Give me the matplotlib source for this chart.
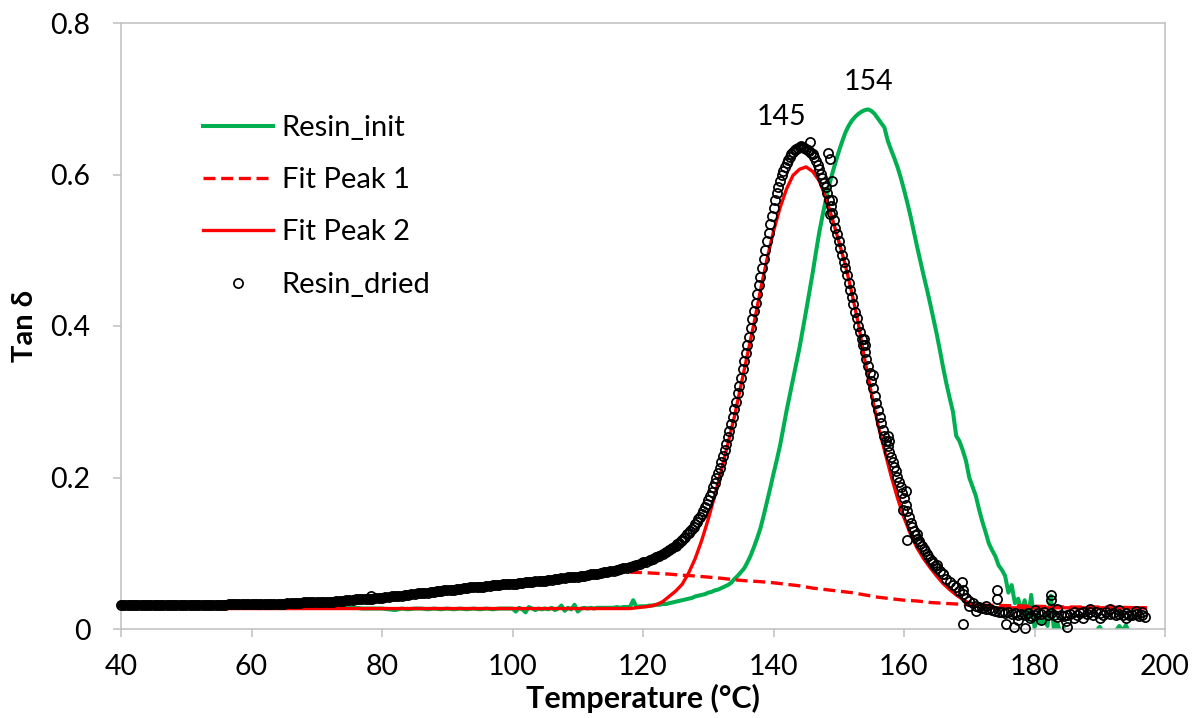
import numpy as np
import matplotlib
matplotlib.use("Agg")
import matplotlib.pyplot as plt

plt.rcParams['font.family'] = ['Lato', 'DejaVu Sans']

# ---------------- data ----------------
# Resin_dried (open circles), three sampling segments
dried_T1 = np.arange(40.0, 125.01, 0.5)
dried_v1 = [
    0.032, 0.032, 0.032, 0.032, 0.032, 0.032, 0.032, 0.032, 0.032, 0.032,
    0.032, 0.032, 0.032, 0.032, 0.032, 0.032, 0.032, 0.032, 0.032, 0.032,
    0.032, 0.032, 0.032, 0.032, 0.032, 0.032, 0.032, 0.032, 0.032, 0.032,
    0.032, 0.032, 0.032, 0.033, 0.033, 0.033, 0.033, 0.033, 0.033, 0.033,
    0.033, 0.033, 0.033, 0.033, 0.033, 0.033, 0.033, 0.033, 0.033, 0.033,
    0.033, 0.034, 0.034, 0.034, 0.034, 0.034, 0.035, 0.035, 0.035, 0.035,
    0.035, 0.035, 0.036, 0.036, 0.036, 0.036, 0.037, 0.037, 0.037, 0.038,
    0.038, 0.038, 0.039, 0.039, 0.039, 0.040, 0.040, 0.040, 0.041, 0.041,
    0.041, 0.042, 0.042, 0.043, 0.043, 0.044, 0.044, 0.045, 0.045, 0.046,
    0.046, 0.047, 0.047, 0.048, 0.048, 0.049, 0.049, 0.050, 0.050, 0.051,
    0.051, 0.052, 0.052, 0.053, 0.053, 0.054, 0.054, 0.055, 0.055, 0.056,
    0.056, 0.056, 0.057, 0.057, 0.058, 0.058, 0.058, 0.059, 0.059, 0.060,
    0.060, 0.060, 0.061, 0.061, 0.062, 0.062, 0.062, 0.063, 0.063, 0.064,
    0.064, 0.065, 0.065, 0.066, 0.066, 0.067, 0.067, 0.068, 0.068, 0.069,
    0.069, 0.070, 0.070, 0.071, 0.072, 0.072, 0.073, 0.074, 0.075, 0.075,
    0.076, 0.077, 0.078, 0.079, 0.080, 0.081, 0.082, 0.083, 0.085, 0.086,
    0.088, 0.089, 0.091, 0.093, 0.095, 0.097, 0.099, 0.101, 0.104, 0.107,
    0.110,
]
dried_T2 = np.arange(125.25, 165.001, 0.25)
dried_v2 = [
    0.112, 0.114, 0.116, 0.118, 0.120, 0.122, 0.125, 0.127,
    0.130, 0.132, 0.135, 0.138, 0.141, 0.145, 0.148, 0.152,
    0.156, 0.161, 0.165, 0.170, 0.175, 0.181, 0.187, 0.193,
    0.199, 0.206, 0.213, 0.220, 0.228, 0.236, 0.244, 0.253,
    0.262, 0.271, 0.280, 0.290, 0.300, 0.311, 0.321, 0.332,
    0.343, 0.354, 0.364, 0.375, 0.386, 0.397, 0.409, 0.420,
    0.431, 0.442, 0.454, 0.465, 0.477, 0.489, 0.500, 0.512,
    0.523, 0.534, 0.545, 0.556, 0.566, 0.575, 0.584, 0.592,
    0.599, 0.605, 0.610, 0.615, 0.619, 0.623, 0.627, 0.630,
    0.632, 0.634, 0.635, 0.636, 0.637, 0.636, 0.635, 0.634,
    0.633, 0.631, 0.629, 0.627, 0.623, 0.618, 0.613, 0.607,
    0.601, 0.595, 0.589, 0.583, 0.575, 0.566, 0.558, 0.549,
    0.540, 0.530, 0.521, 0.512, 0.503, 0.494, 0.485, 0.476,
    0.467, 0.457, 0.448, 0.438, 0.429, 0.419, 0.410, 0.400,
    0.392, 0.383, 0.375, 0.366, 0.357, 0.347, 0.338, 0.328,
    0.318, 0.308, 0.299, 0.289, 0.280, 0.272, 0.263, 0.255,
    0.248, 0.241, 0.234, 0.227, 0.221, 0.214, 0.208, 0.201,
    0.194, 0.187, 0.180, 0.173, 0.164, 0.156, 0.148, 0.140,
    0.134, 0.129, 0.124, 0.119, 0.116, 0.112, 0.109, 0.106,
    0.103, 0.099, 0.096, 0.093, 0.090, 0.087, 0.083, 0.080,
]
dried_T3 = np.arange(165.5, 197.01, 0.5)
dried_v3 = [
    0.076, 0.072, 0.066, 0.062, 0.058, 0.055, 0.050, 0.046, 0.041, 0.037,
    0.034, 0.031, 0.029, 0.028, 0.027, 0.026, 0.025, 0.024, 0.022, 0.023,
    0.021, 0.022, 0.020, 0.021, 0.019, 0.020, 0.018, 0.021, 0.017, 0.019,
    0.021, 0.020, 0.022, 0.019, 0.021, 0.018, 0.016, 0.019, 0.017, 0.018,
    0.020, 0.022, 0.019, 0.021, 0.023, 0.020, 0.022, 0.019, 0.023, 0.021,
    0.019, 0.022, 0.020, 0.021, 0.019, 0.020, 0.018, 0.021, 0.019, 0.018,
    0.020, 0.017, 0.018, 0.016,
]
# scattered individual Resin_dried readings
dried_xT = [78.3, 88.8, 145.6, 148.4, 148.6, 148.9, 149.0, 148.6, 153.8, 154.0,
            155.3, 157.5, 157.7, 160.3, 160.4, 159.9, 162.0, 165.0, 166.0, 169.1,
            169.1, 168.9, 170.0, 171.0, 172.5, 174.2, 174.2, 175.7, 176.8, 177.5,
            178.5, 179.3, 180.0, 181.0, 182.6, 182.6, 183.5, 184.9, 185.0, 186.0,
            187.5, 188.5, 190.0, 191.5, 193.0, 194.0, 195.5, 196.5]
dried_xv = [0.043, 0.050, 0.643, 0.629, 0.620, 0.592, 0.566, 0.548, 0.383, 0.375,
            0.335, 0.255, 0.248, 0.182, 0.117, 0.157, 0.125, 0.085, 0.073, 0.052,
            0.006, 0.062, 0.030, 0.024, 0.031, 0.051, 0.040, 0.007, 0.003, 0.012,
            0.001, 0.014, 0.025, 0.012, 0.045, 0.038, 0.026, 0.011, 0.003, 0.014,
            0.015, 0.027, 0.015, 0.026, 0.025, 0.015, 0.024, 0.022]

# Resin_init (green line)
init_T1 = np.arange(40.0, 99.01, 1.0)
init_v1 = [
    0.030, 0.030, 0.030, 0.030, 0.030, 0.030, 0.030, 0.030, 0.030, 0.030,
    0.030, 0.030, 0.030, 0.030, 0.030, 0.030, 0.030, 0.030, 0.030, 0.030,
    0.030, 0.030, 0.030, 0.029, 0.029, 0.029, 0.029, 0.029, 0.029, 0.028,
    0.028, 0.028, 0.028, 0.028, 0.028, 0.028, 0.028, 0.027, 0.027, 0.027,
    0.027, 0.026, 0.025, 0.027, 0.026, 0.027, 0.027, 0.026, 0.027, 0.026,
    0.027, 0.026, 0.027, 0.026, 0.027, 0.026, 0.027, 0.026, 0.027, 0.027,
]
init_T2 = np.arange(100.0, 135.51, 0.5)
init_v2 = [
    0.027, 0.023, 0.028, 0.026, 0.022, 0.029, 0.027, 0.025, 0.027, 0.026,
    0.027, 0.026, 0.028, 0.025, 0.027, 0.031, 0.024, 0.028, 0.026, 0.032,
    0.023, 0.027, 0.028, 0.027, 0.028, 0.027, 0.028, 0.028, 0.028, 0.028,
    0.028, 0.028, 0.029, 0.028, 0.029, 0.029, 0.029, 0.038, 0.029, 0.030,
    0.030, 0.030, 0.031, 0.031, 0.032, 0.032, 0.033, 0.033, 0.034, 0.035,
    0.036, 0.037, 0.038, 0.039, 0.040, 0.041, 0.043, 0.044, 0.045, 0.046,
    0.048, 0.049, 0.051, 0.052, 0.054, 0.056, 0.058, 0.061, 0.066, 0.070,
    0.075, 0.080,
]
init_T3 = np.arange(136.0, 175.01, 0.5)
init_v3 = [
    0.088, 0.097, 0.108, 0.120, 0.133, 0.150, 0.168, 0.186, 0.205, 0.223,
    0.242, 0.265, 0.288, 0.309, 0.330, 0.351, 0.372, 0.396, 0.420, 0.445,
    0.470, 0.497, 0.523, 0.545, 0.566, 0.585, 0.601, 0.616, 0.630, 0.643,
    0.655, 0.664, 0.671, 0.676, 0.680, 0.683, 0.685, 0.686, 0.684, 0.680,
    0.674, 0.668, 0.662, 0.645, 0.633, 0.622, 0.610, 0.596, 0.580, 0.563,
    0.545, 0.525, 0.505, 0.486, 0.467, 0.449, 0.430, 0.410, 0.390, 0.368,
    0.345, 0.324, 0.305, 0.287, 0.255, 0.248, 0.236, 0.222, 0.200, 0.188,
    0.176, 0.158, 0.142, 0.128, 0.113, 0.104, 0.096, 0.084, 0.078,
]
init_T4 = np.arange(175.5, 197.01, 0.5)
init_v4 = [
    0.070, 0.048, 0.058, 0.034, 0.040, 0.022, 0.038, 0.012, 0.045, 0.002,
    0.016, 0.008, 0.012, 0.004, 0.044, -0.003, 0.008, -0.006, 0.001, -0.008,
    -0.004, -0.007, -0.003, -0.008, -0.005, -0.007, -0.004, -0.006, -0.002, 0.003,
    -0.005, -0.006, -0.004, -0.007, -0.002, 0.004, -0.003, 0.005, -0.004, -0.006,
    -0.003, -0.005, -0.002, -0.004,
]

# Fit Peak 2 (solid red)
peak2_T = np.arange(40.0, 197.01, 1.0)
peak2_v = [0.027] * 79 + [
    0.028, 0.029, 0.030, 0.032, 0.036, 0.043, 0.050, 0.059, 0.074, 0.093,
    0.117, 0.145, 0.176, 0.209, 0.244, 0.280, 0.321, 0.362, 0.403, 0.447,
    0.488, 0.525, 0.556, 0.581, 0.599, 0.607, 0.610, 0.604, 0.592, 0.570,
    0.542, 0.512, 0.481, 0.444, 0.403, 0.355, 0.311, 0.270, 0.236, 0.203,
    0.173, 0.147, 0.125, 0.107, 0.093, 0.081, 0.070, 0.060, 0.052, 0.045,
    0.039, 0.034, 0.031, 0.029, 0.028, 0.028, 0.028, 0.028, 0.028, 0.028,
    0.028, 0.028, 0.028, 0.028, 0.028, 0.028, 0.028, 0.028, 0.028, 0.028,
    0.028, 0.028, 0.028, 0.028, 0.028, 0.028, 0.028, 0.028, 0.028,
]

# Fit Peak 1 (dashed red)
peak1_T = [118, 120, 122, 124, 126, 128, 130, 132, 134, 136, 138, 140, 142, 144,
           146, 148, 150, 152, 154, 156, 158, 160, 162, 164, 166, 168, 170, 175,
           180, 185, 190, 197]
peak1_v = [0.075, 0.0745, 0.0735, 0.0725, 0.071, 0.070, 0.0685, 0.067, 0.065,
           0.0635, 0.0625, 0.061, 0.059, 0.057, 0.054, 0.052, 0.050, 0.048,
           0.045, 0.042, 0.040, 0.038, 0.037, 0.035, 0.034, 0.033, 0.032, 0.031,
           0.030, 0.029, 0.029, 0.028]

x_ticks = [40, 60, 80, 100, 120, 140, 160, 180, 200]
y_ticks = [0, 0.2, 0.4, 0.6, 0.8]
y_tick_labels = ['0', '0.2', '0.4', '0.6', '0.8']
peak_labels = [(141.3, 0.676, '145'), (154.5, 0.722, '154')]

# ---------------- figure ----------------
W, H = 1199, 718
fig = plt.figure(figsize=(W / 100, H / 100), dpi=100)
L, R, T, B = 121, 1165, 23, 629
ax = fig.add_axes([L / W, 1 - B / H, (R - L) / W, (B - T) / H])

green = '#00B050'
red = '#FF0000'

ax.plot(np.concatenate([init_T1, init_T2, init_T3, init_T4]),
        np.concatenate([init_v1, init_v2, init_v3, init_v4]),
        color=green, lw=2.9, label='Resin_init', zorder=2, solid_joinstyle='round')
ax.plot(peak1_T, peak1_v, color=red, lw=2.4, ls=(0, (3.6, 1.7)),
        label='Fit Peak 1', zorder=3)
ax.plot(peak2_T, peak2_v, color=red, lw=2.4, label='Fit Peak 2', zorder=4)

# densely packed markers in the flat part merge into a solid band
ax.plot(dried_T1, dried_v1, color='black', lw=6.2, solid_capstyle='round',
        zorder=4.9, clip_on=False)
dT = np.concatenate([dried_T1, dried_T2, dried_T3, dried_xT])
dv = np.concatenate([dried_v1, dried_v2, dried_v3, dried_xv])
ax.plot(dT, dv, ls='none', marker='o', ms=6.6, mfc='none', mec='black',
        mew=1.25, label='Resin_dried', zorder=5, clip_on=False)

ax.set_xlim(40, 200)
ax.set_ylim(0, 0.8)
ax.set_xticks(x_ticks)
ax.set_xticklabels([str(t) for t in x_ticks])
ax.set_yticks(y_ticks)
ax.set_yticklabels(y_tick_labels)

for s in ax.spines.values():
    s.set_color('#BFBFBF')
    s.set_linewidth(1.1)
ax.tick_params(axis='both', which='major', direction='out', length=6, width=1.1,
               color='#BFBFBF', labelsize=20.5, labelcolor='black')
ax.tick_params(axis='x', pad=12)
ax.tick_params(axis='y', pad=16)

ax.set_xlabel('Temperature (°C)', fontsize=22, fontweight='bold', labelpad=3)
ax.set_ylabel('Tan δ', fontsize=21, fontweight='bold', labelpad=9)

for x, y, s in peak_labels:
    ax.text(x, y, s, ha='center', va='center', fontsize=20.5)

handles, labels = ax.get_legend_handles_labels()
leg = ax.legend(handles, labels, loc='upper left',
                bbox_to_anchor=(203 / W, 1 - 115 / H),
                bbox_transform=fig.transFigure, frameon=False, fontsize=21,
                handlelength=2.4, handletextpad=0.3, labelspacing=0.9,
                borderpad=0, borderaxespad=0, numpoints=1)

fig.savefig('out.png', dpi=100)
